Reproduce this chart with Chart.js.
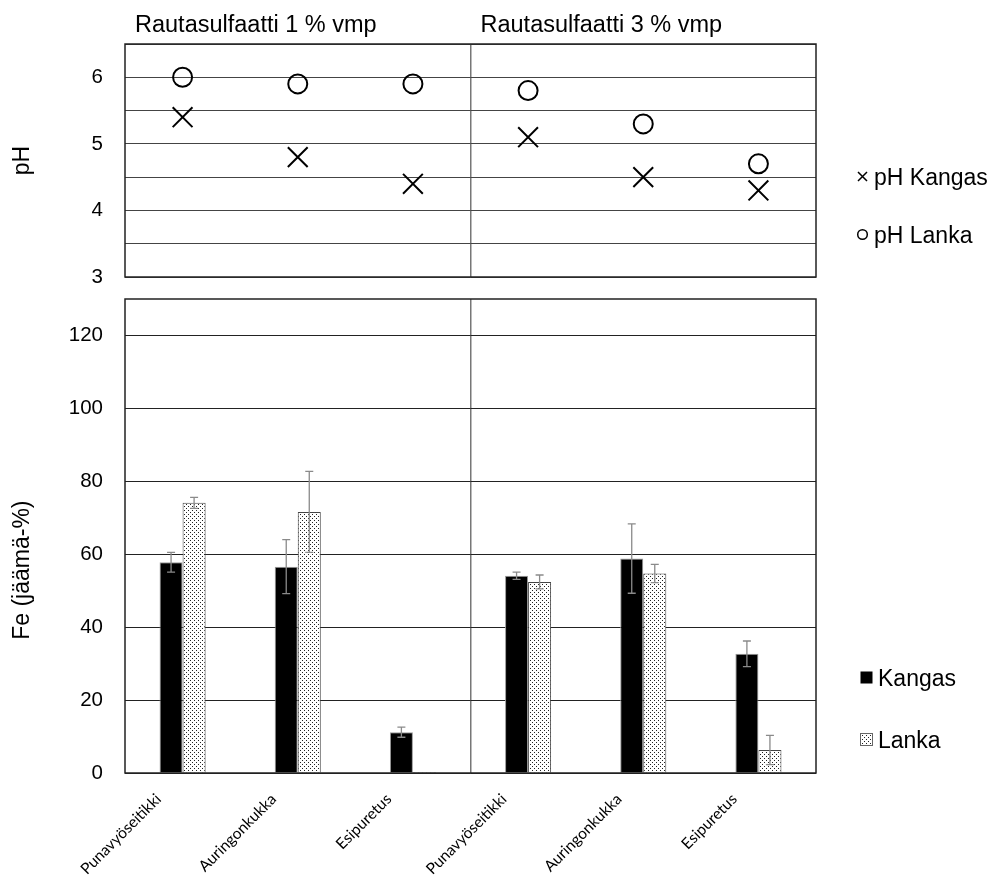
<!DOCTYPE html>
<html>
  <head>
    <meta charset="utf-8">
    <title>Rautasulfaatti pH ja Fe</title>
    <script src="https://cdn.jsdelivr.net/npm/chart.js"></script>
    <style>
      body { margin: 0; background: #fff; font-family: 'Liberation Sans', Arial, sans-serif; }
      #wrap { position: relative; width: 1000px; height: 885px; overflow: hidden; }
      #wrap > canvas { position: absolute; left: 0; }
      .leg { position: absolute; font-size: 23px; color: #000; line-height: 28px; white-space: nowrap; }
      .leg .mk { display: inline-block; vertical-align: middle; margin-right: 5px; position: relative; top: -2px; }
    </style>
  </head>
  <body>
    <div id="wrap">
      <canvas id="phChart" width="1000" height="290" style="top:0"></canvas>
      <canvas id="feChart" width="1000" height="595" style="top:290px"></canvas>
    </div>

    <script>
      // categories (two groups of three: 1 % and 3 % rautasulfaatti)
      var categories = ['Punavyöseitikki', 'Auringonkukka', 'Esipuretus',
                        'Punavyöseitikki', 'Auringonkukka', 'Esipuretus'];
      var groupTitles = ['Rautasulfaatti 1 % vmp', 'Rautasulfaatti 3 % vmp'];

      // pH values
      var phKangas = [5.4, 4.8, 4.4, 5.1, 4.5, 4.3];
      var phLanka = [6.0, 5.9, 5.9, 5.8, 5.3, 4.7];

      // Fe residue (%) and error bars
      var feKangas = [57.8, 56.6, 11.2, 54.1, 58.8, 32.7];
      var feKangasErr = [2.7, 7.4, 1.4, 1.0, 9.5, 3.5];
      var feLanka = [74.1, 71.6, 0.3, 52.4, 54.7, 6.3];
      var feLankaErr = [1.5, 11.1, 0, 1.9, 2.5, 4.0];

      var phTicks = [3, 4, 5, 6];
      var feTicks = [0, 20, 40, 60, 80, 100, 120];

      var plotRight = 184; // space for legend on right
      var axisWidth = 125;

      // dotted fill for Lanka bars
      function dotPattern() {
        var c = document.createElement('canvas');
        c.width = 4; c.height = 4;
        var g = c.getContext('2d');
        g.fillStyle = '#fff';
        g.fillRect(0, 0, 4, 4);
        g.fillStyle = '#222';
        g.fillRect(0, 0, 1, 1);
        g.fillRect(2, 2, 1, 1);
        return g.createPattern(c, 'repeat');
      }
      var dots = dotPattern();

      // vertical divider between the two groups
      function dividerColor(ctx) {
        return ctx.index === 3 ? '#777' : 'rgba(0,0,0,0)';
      }

      // y axis: fixed width, no extra padding for label overhang
      function fixY(s) {
        s.width = axisWidth;
        s.paddingTop = 0;
        s.paddingBottom = 0;
      }

      var frame = {
        id: 'frame',
        afterDatasetsDraw: function (chart) {
          var a = chart.chartArea, c = chart.ctx;
          c.save();
          c.strokeStyle = '#222';
          c.lineWidth = 1.5;
          c.strokeRect(a.left, a.top, a.right - a.left, a.bottom - a.top);
          c.restore();
        }
      };

      var titles = {
        id: 'titles',
        afterDraw: function (chart) {
          var x = chart.scales.x, c = chart.ctx;
          var mid = (x.getPixelForValue(2) + x.getPixelForValue(3)) / 2;
          c.save();
          c.font = '23.5px "Liberation Sans", Arial, sans-serif';
          c.fillStyle = '#000';
          c.textBaseline = 'middle';
          c.fillText(groupTitles[0], chart.chartArea.left + 10, 26);
          c.fillText(groupTitles[1], mid + 10, 26);
          c.restore();
        }
      };

      var errorBars = {
        id: 'errorBars',
        afterDatasetsDraw: function (chart) {
          var c = chart.ctx, y = chart.scales.y;
          c.save();
          c.strokeStyle = '#8a8a8a';
          c.lineWidth = 1.3;
          chart.data.datasets.forEach(function (ds, i) {
            chart.getDatasetMeta(i).data.forEach(function (bar, j) {
              var e = ds.errors[j];
              if (!e) return;
              var y1 = y.getPixelForValue(ds.data[j] + e);
              var y2 = y.getPixelForValue(ds.data[j] - e);
              c.beginPath();
              c.moveTo(bar.x, y1); c.lineTo(bar.x, y2);
              c.moveTo(bar.x - 4, y1); c.lineTo(bar.x + 4, y1);
              c.moveTo(bar.x - 4, y2); c.lineTo(bar.x + 4, y2);
              c.stroke();
            });
          });
          c.restore();
        }
      };

      var feTitle = {
        id: 'feTitle',
        afterDraw: function (chart) {
          var a = chart.chartArea, c = chart.ctx;
          c.save();
          c.translate(23, a.top + (a.bottom - a.top) * 0.572);
          c.rotate(-Math.PI / 2);
          c.font = '23px "Liberation Sans", Arial, sans-serif';
          c.fillStyle = '#000';
          c.textAlign = 'center';
          c.textBaseline = 'middle';
          c.fillText('Fe (jäämä-%)', 0, 0);
          c.restore();
        }
      };

      var tickFont = { family: '"Liberation Sans", Arial, sans-serif', size: 20.5 };

      // top chart: pH
      var phChart = new Chart(document.getElementById('phChart'), {
        type: 'line',
        data: {
          labels: categories,
          datasets: [
            {
              label: 'pH Kangas',
              data: phKangas,
              showLine: false,
              pointStyle: 'crossRot',
              pointRadius: 14,
              pointBorderWidth: 2,
              borderColor: '#000',
              backgroundColor: '#000'
            },
            {
              label: 'pH Lanka',
              data: phLanka,
              showLine: false,
              pointStyle: 'circle',
              pointRadius: 9.5,
              pointBorderWidth: 2,
              borderColor: '#000',
              backgroundColor: 'rgba(0,0,0,0)'
            }
          ]
        },
        options: {
          responsive: false,
          animation: false,
          layout: { autoPadding: false, padding: { top: 44, right: plotRight, bottom: 13, left: 0 } },
          plugins: { legend: { display: false }, tooltip: { enabled: false } },
          scales: {
            x: {
              offset: true,
              grid: { offset: true, color: dividerColor, lineWidth: 1.5, drawTicks: false },
              ticks: { display: false },
              border: { display: false },
              afterFit: function (s) { s.height = 0; s.paddingLeft = 0; s.paddingRight = 0; }
            },
            y: {
              min: 3,
              max: 6.5,
              ticks: {
                stepSize: 0.5,
                padding: 22,
                color: '#000',
                font: tickFont,
                callback: function (v) {
                  return phTicks.indexOf(Math.round(v * 100) / 100) >= 0 ? v : '';
                }
              },
              grid: { color: '#444', drawTicks: false },
              border: { display: false },
              title: {
                display: true,
                text: 'pH',
                color: '#000',
                font: { family: '"Liberation Sans", Arial, sans-serif', size: 23 },
                padding: { top: 9, bottom: 0 }
              },
              afterFit: fixY
            }
          }
        },
        plugins: [frame, titles]
      });

      // bottom chart: Fe
      var feChart = new Chart(document.getElementById('feChart'), {
        type: 'bar',
        data: {
          labels: categories,
          datasets: [
            {
              label: 'Kangas',
              data: feKangas,
              errors: feKangasErr,
              backgroundColor: '#000',
              borderColor: '#999',
              borderWidth: 1
            },
            {
              label: 'Lanka',
              data: feLanka,
              errors: feLankaErr,
              backgroundColor: dots,
              borderColor: '#444',
              borderWidth: 1
            }
          ]
        },
        options: {
          responsive: false,
          animation: false,
          layout: { autoPadding: false, padding: { top: 9, right: plotRight, bottom: 0, left: 0 } },
          datasets: { bar: { barPercentage: 1, categoryPercentage: 0.4 } },
          plugins: { legend: { display: false }, tooltip: { enabled: false } },
          scales: {
            x: {
              grid: { offset: true, color: dividerColor, lineWidth: 1.5, drawTicks: false },
              border: { display: false },
              ticks: {
                minRotation: 45,
                maxRotation: 45,
                padding: 17,
                labelOffset: -24,
                color: '#000',
                font: { family: 'Lato, "Open Sans", sans-serif', size: 15.5 }
              },
              afterFit: function (s) { s.height = 112; s.paddingLeft = 0; s.paddingRight = 0; }
            },
            y: {
              min: 0,
              max: 130,
              ticks: {
                stepSize: 20,
                includeBounds: false,
                padding: 22,
                color: '#000',
                font: tickFont,
                callback: function (v) { return feTicks.indexOf(v) >= 0 ? v : ''; }
              },
              grid: { color: '#222', drawTicks: false },
              border: { display: false },
              afterFit: fixY
            }
          }
        },
        plugins: [errorBars, frame, feTitle]
      });

      // HTML legends built from the dataset labels
      function marker(kind) {
        var c = document.createElement('canvas');
        c.width = 13; c.height = 13;
        c.className = 'mk';
        var g = c.getContext('2d');
        g.strokeStyle = '#000';
        g.lineWidth = 1.5;
        if (kind === 'cross') {
          g.beginPath();
          g.moveTo(2, 2); g.lineTo(11, 11);
          g.moveTo(11, 2); g.lineTo(2, 11);
          g.stroke();
        } else if (kind === 'circle') {
          g.beginPath();
          g.arc(6.5, 6.5, 4.8, 0, Math.PI * 2);
          g.stroke();
        } else if (kind === 'solid') {
          g.fillStyle = '#000';
          g.fillRect(0.5, 0.5, 12, 12);
        } else {
          g.fillStyle = dots;
          g.fillRect(0.5, 0.5, 12, 12);
          g.strokeStyle = '#666';
          g.lineWidth = 1;
          g.strokeRect(0.5, 0.5, 12, 12);
        }
        return c;
      }

      function addLegend(chart, kinds, left, ys) {
        chart.data.datasets.forEach(function (ds, i) {
          var d = document.createElement('div');
          d.className = 'leg';
          d.style.left = left + 'px';
          d.style.top = (ys[i] - 14) + 'px';
          d.appendChild(marker(kinds[i]));
          d.appendChild(document.createTextNode(ds.label));
          document.getElementById('wrap').appendChild(d);
        });
      }

      addLegend(phChart, ['cross', 'circle'], 856, [177, 235]);
      addLegend(feChart, ['solid', 'dots'], 860, [678, 740]);
    </script>
  </body>
</html>
